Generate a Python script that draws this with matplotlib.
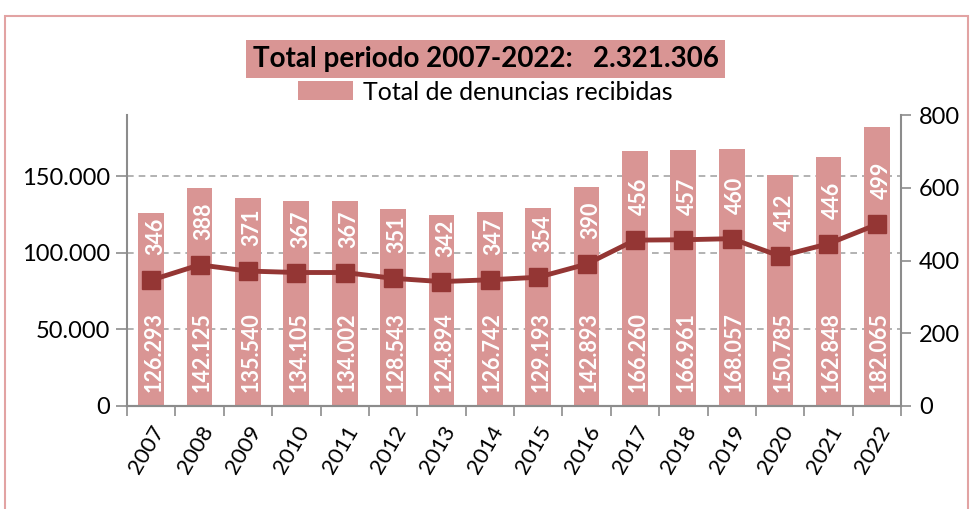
import matplotlib
matplotlib.use("Agg")
import matplotlib.pyplot as plt
from matplotlib.patches import Rectangle
from matplotlib.ticker import FuncFormatter, FixedLocator

plt.rcParams['font.family'] = ['Lato', 'DejaVu Sans']

years = ['2007', '2008', '2009', '2010', '2011', '2012', '2013', '2014',
         '2015', '2016', '2017', '2018', '2019', '2020', '2021', '2022']
denuncias = [126293, 142125, 135540, 134105, 134002, 128543, 124894, 126742,
             129193, 142893, 166260, 166961, 168057, 150785, 162848, 182065]
linea = [346, 388, 371, 367, 367, 351, 342, 347,
         354, 390, 456, 457, 460, 412, 446, 499]
left_ticks = [0, 50000, 100000, 150000]
right_ticks = [0, 200, 400, 600, 800]

bar_col = '#D99594'
line_col = '#943634'
axis_col = '#8C8C8C'

fig = plt.figure(figsize=(9.71, 5.09), dpi=100)
ax = fig.add_axes([127/971, 1-406/509, (901-127)/971, (406-115)/509])
ax2 = ax.twinx()

x = list(range(len(years)))
ax.bar(x, denuncias, width=0.53, color=bar_col, zorder=2, label='Total de denuncias recibidas')
ax.set_xlim(-0.5, len(years)-0.5)
ax.set_ylim(0, 190000)
ax.yaxis.set_major_locator(FixedLocator(left_ticks))
ax.yaxis.set_major_formatter(FuncFormatter(lambda v, p: f"{int(v):,}".replace(',', '.')))
ax.grid(axis='y', linestyle=(0, (4, 3)), color='#A6A6A6', lw=1.2, zorder=1)
ax.set_axisbelow(True)

for xi, v in zip(x, denuncias):
    ax.annotate(f"{v:,}".replace(',', '.'), (xi, 0), xytext=(2, 10), textcoords='offset points',
                rotation=90, ha='center', va='bottom', color='white', fontsize=15.5,
                fontweight='bold', zorder=3)

ax2.plot(x, linea, '-s', color=line_col, lw=3.5, ms=13, zorder=4)
ax2.set_ylim(0, 800)
ax2.yaxis.set_major_locator(FixedLocator(right_ticks))
for xi, v in zip(x, linea):
    ax2.annotate(str(v), (xi, v), xytext=(3, 18), textcoords='offset points',
                 rotation=90, ha='center', va='bottom', color='white', fontsize=15.5,
                 fontweight='bold', zorder=5)

ax.set_xticks([i - 0.5 for i in range(len(years)+1)], minor=False)
ax.set_xticklabels([])
ax.set_xticks(x, minor=True)
ax.set_xticklabels(years, minor=True, rotation=60, ha='right', rotation_mode='anchor', fontsize=16)
ax.tick_params(axis='x', which='minor', length=0, pad=12)
ax.tick_params(axis='x', which='major', length=7, color=axis_col, width=1.2, direction='out')
ax.tick_params(axis='y', labelsize=17, length=8, color=axis_col, width=1.2, pad=4)
ax2.tick_params(axis='y', labelsize=17, length=7, color=axis_col, width=1.2, pad=6)

for a in (ax, ax2):
    a.spines['top'].set_visible(False)
    for s in ('left', 'right', 'bottom'):
        a.spines[s].set_color(axis_col)
        a.spines[s].set_linewidth(1.5)
ax.spines['right'].set_visible(False)
ax2.spines['left'].set_visible(False)

fig.text(0.5, 1-59/509, 'Total periodo 2007-2022:   2.321.306', ha='center', va='center',
         fontsize=20, fontweight='bold',
         bbox=dict(boxstyle='square,pad=0.22', facecolor=bar_col, edgecolor='none'))

fig.legend(loc='center', bbox_to_anchor=(0.5, 1-92/509), frameon=False, fontsize=18,
           handlelength=2.2, handleheight=0.8, handletextpad=0.4, borderaxespad=0)

fig.patches.append(Rectangle((5/971, -0.1), 963/971, 1.1-16/509, transform=fig.transFigure,
                             fill=False, edgecolor='#E2A3A3', lw=1.5))

fig.savefig('out.png', dpi=100)
